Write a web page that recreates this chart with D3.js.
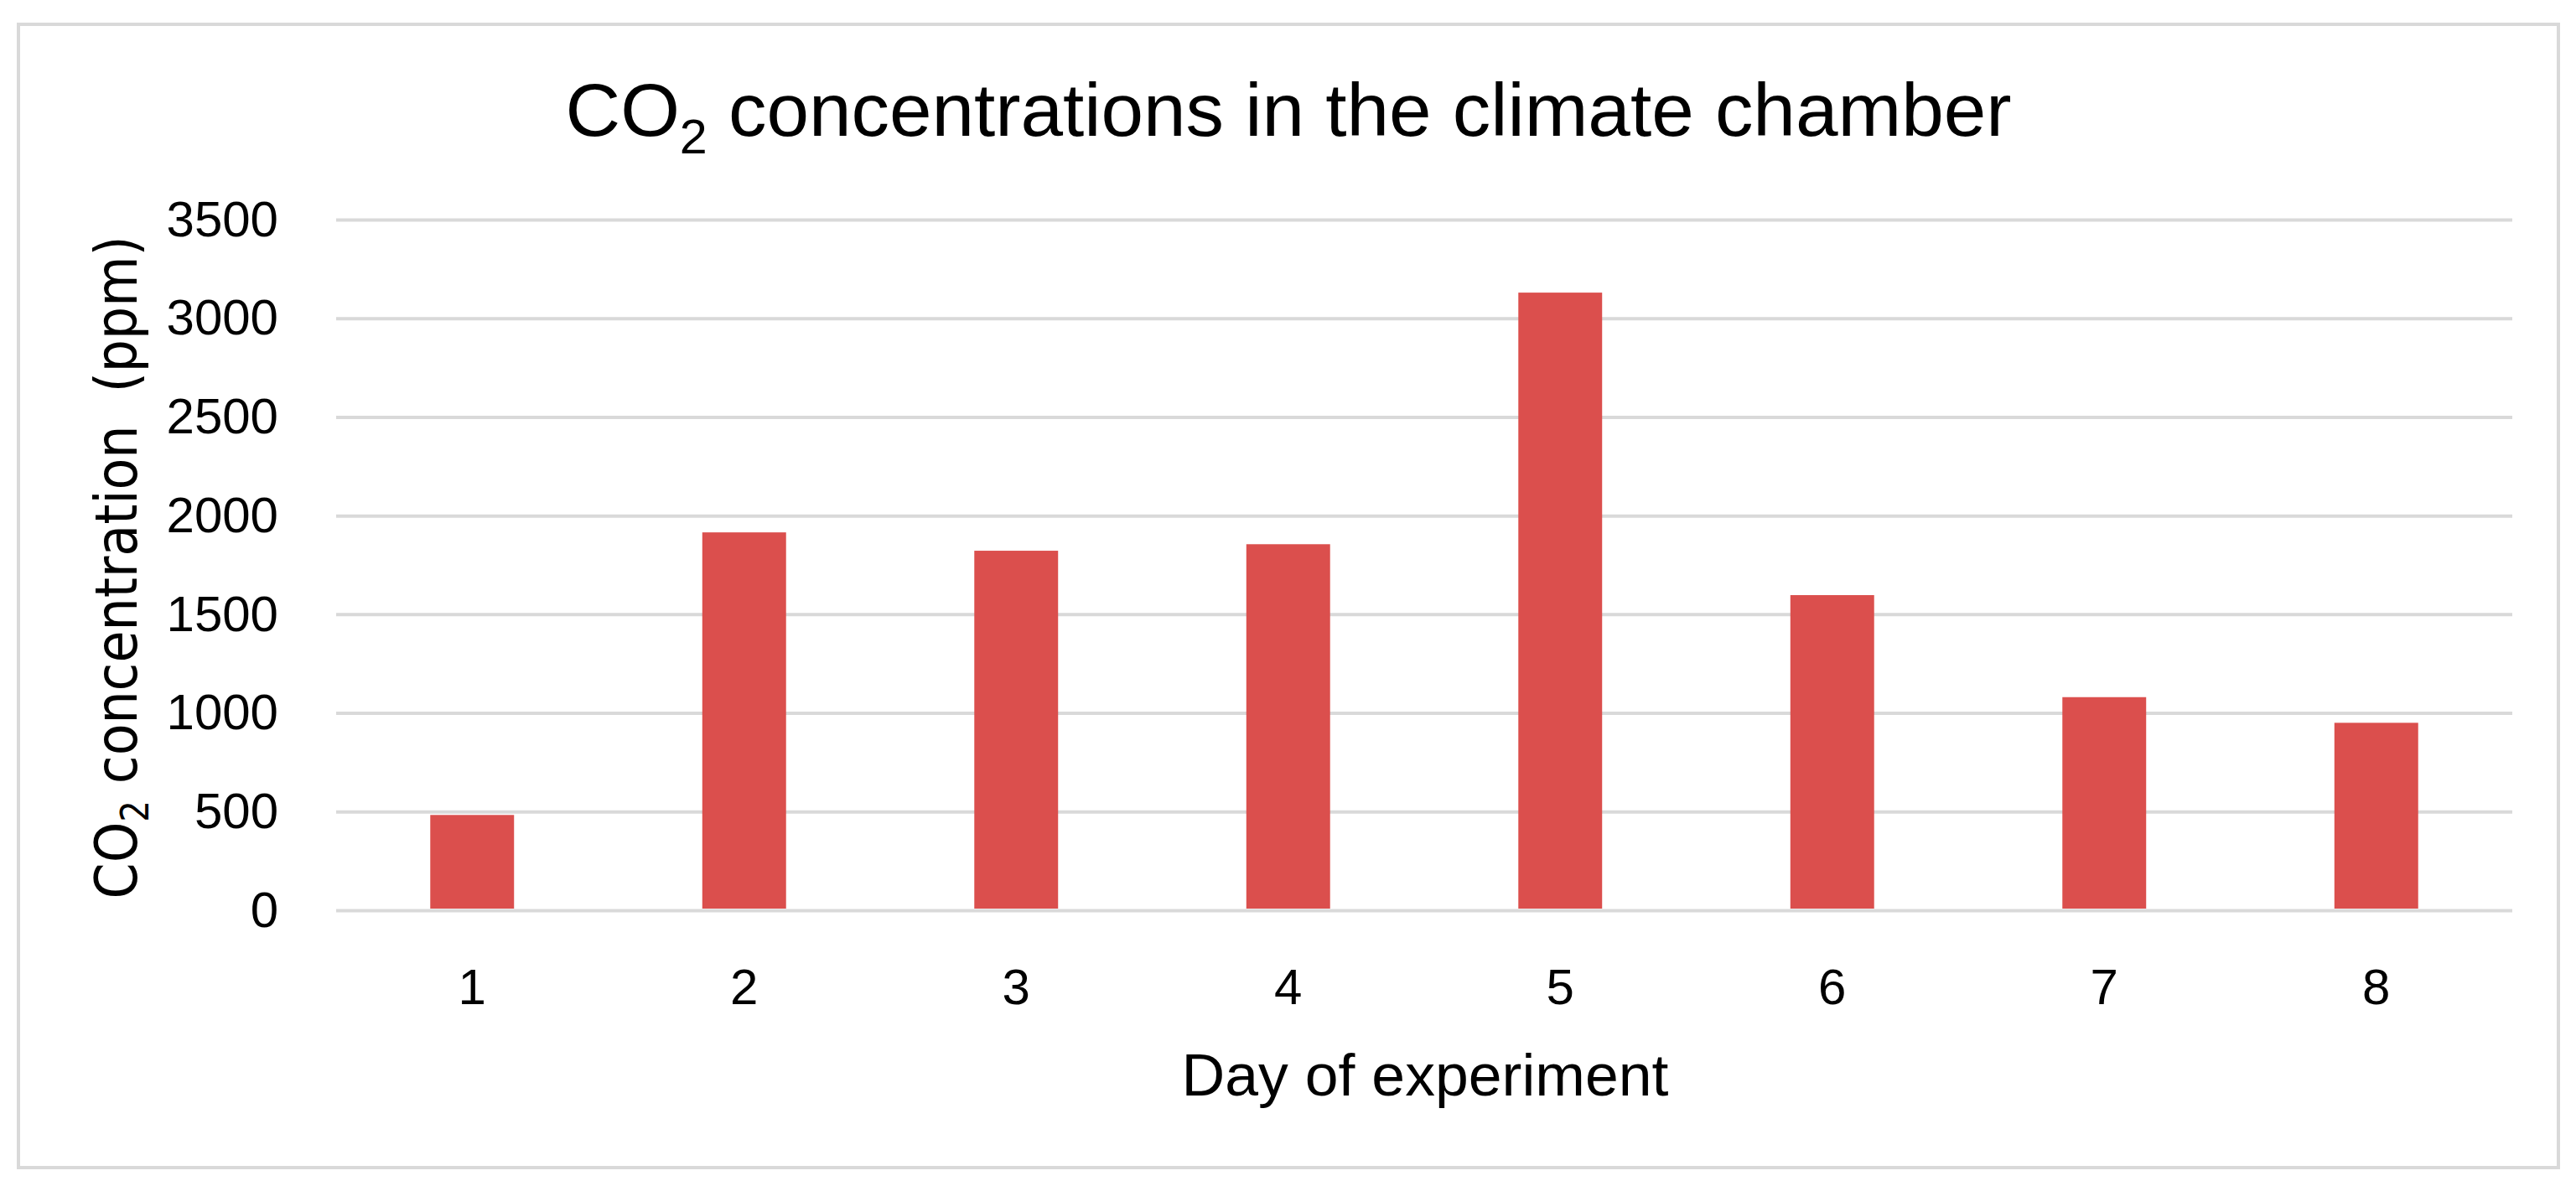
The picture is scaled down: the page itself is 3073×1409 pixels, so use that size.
<!DOCTYPE html>
<html>
<head>
<meta charset="utf-8">
<script src="https://cdn.jsdelivr.net/npm/d3@7"></script>
<style>
  body { margin: 0; background: #fff; }
</style>
</head>
<body>
<div id="chart"></div>
<script>
// chart data
var days = ["1", "2", "3", "4", "5", "6", "7", "8"];
var co2Values = [483, 1915, 1822, 1855, 3130, 1597, 1080, 950];
var yTicks = [0, 500, 1000, 1500, 2000, 2500, 3000, 3500];

var width = 3073;
var height = 1409;

var barColor = "#db4f4d";
var gridColor = "#d9d9d9";
var fontFamily = "'Liberation Sans', Arial, sans-serif";

// plot area
var plotLeft = 401, plotRight = 2997;
var plotTop = 262, plotBottom = 1086;

var svg = d3.select("#chart").append("svg")
    .attr("width", width)
    .attr("height", height);

svg.append("rect")
    .attr("width", width)
    .attr("height", height)
    .attr("fill", "#fff");

// outer frame
svg.append("rect")
    .attr("x", 22)
    .attr("y", 29)
    .attr("width", 3052 - 22)
    .attr("height", 1393 - 29)
    .attr("fill", "none")
    .attr("stroke", gridColor)
    .attr("stroke-width", 4);

var x = d3.scaleBand()
    .domain(days)
    .range([plotLeft, plotRight])
    .paddingInner(0.692)
    .paddingOuter(0.346);

var y = d3.scaleLinear()
    .domain([0, 3500])
    .range([plotBottom, plotTop]);

// y axis with gridlines
var yAxis = svg.append("g")
    .attr("transform", "translate(" + plotLeft + ",0)")
    .call(d3.axisLeft(y)
        .tickValues(yTicks)
        .tickSize(-(plotRight - plotLeft))
        .tickPadding(69)
        .tickFormat(d3.format("d")));
yAxis.select(".domain").remove();
yAxis.selectAll(".tick line")
    .attr("stroke", gridColor)
    .attr("stroke-width", 4);
yAxis.selectAll(".tick text")
    .attr("font-family", fontFamily)
    .attr("font-size", "60px")
    .attr("fill", "#000");

// x axis
var xAxis = svg.append("g")
    .attr("transform", "translate(0," + plotBottom + ")")
    .call(d3.axisBottom(x)
        .tickSize(0)
        .tickPadding(69));
xAxis.select(".domain").remove();
xAxis.selectAll(".tick text")
    .attr("font-family", fontFamily)
    .attr("font-size", "60px")
    .attr("fill", "#000");

// bars
svg.selectAll("bar")
    .data(co2Values)
    .enter()
    .append("rect")
    .attr("x", function (d, i) { return x(days[i]); })
    .attr("y", function (d) { return y(d); })
    .attr("width", x.bandwidth())
    .attr("height", function (d) { return y(0) - y(d) - 2; })
    .attr("fill", barColor);

// title
var title = svg.append("text")
    .attr("x", 1537)
    .attr("y", 162)
    .attr("text-anchor", "middle")
    .attr("font-family", fontFamily)
    .attr("font-size", "89px")
    .attr("fill", "#000")
    .attr("textLength", 1725)
    .attr("lengthAdjust", "spacingAndGlyphs");
title.append("tspan").text("CO");
title.append("tspan").text("2")
    .attr("font-size", "58px")
    .attr("dy", 21);
title.append("tspan").text(" concentrations in the climate chamber")
    .attr("dy", -21);

// y axis title
var yTitle = svg.append("text")
    .attr("transform", "translate(163,677) rotate(-90)")
    .attr("text-anchor", "middle")
    .attr("font-family", "'DejaVu Sans', sans-serif")
    .attr("font-size", "70px")
    .attr("fill", "#000")
    .attr("textLength", 791)
    .attr("lengthAdjust", "spacingAndGlyphs");
yTitle.append("tspan").text("CO");
yTitle.append("tspan").text("2")
    .attr("font-size", "46px")
    .attr("dy", 14);
yTitle.append("tspan").text(" concentration  (ppm)")
    .attr("dy", -14)
    .attr("xml:space", "preserve")
    .style("white-space", "pre");

// x axis title
svg.append("text")
    .attr("x", 1700)
    .attr("y", 1307)
    .attr("text-anchor", "middle")
    .attr("font-family", fontFamily)
    .attr("font-size", "70px")
    .attr("fill", "#000")
    .attr("textLength", 581)
    .attr("lengthAdjust", "spacingAndGlyphs")
    .text("Day of experiment");
</script>
</body>
</html>
